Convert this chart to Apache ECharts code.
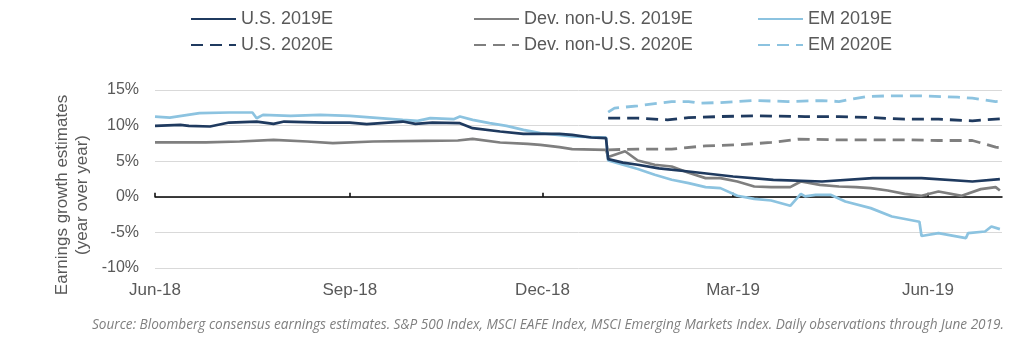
<!DOCTYPE html>
<html>
<head>
<meta charset="utf-8">
<script src="https://cdn.jsdelivr.net/npm/echarts@6/dist/echarts.min.js"></script>
<style>
  html, body { margin: 0; padding: 0; background: #fff; }
  #chart { width: 1024px; height: 346px; }
</style>
</head>
<body>
<div id="chart"></div>
<script>
// ---- Data (% year over year) ----
const tickDates = ['2018-06-01', '2018-09-01', '2018-12-01', '2019-03-01', '2019-06-01'];
const tickLabels = ['Jun-18', 'Sep-18', 'Dec-18', 'Mar-19', 'Jun-19'];
const xStart = '2018-06-01';
const xEnd = '2019-07-06';

const us2019E = [['2018-06-01',9.97],['2018-06-13',10.1],['2018-06-17',9.97],['2018-06-27',9.87],['2018-07-06',10.43],['2018-07-19',10.57],['2018-07-27',10.25],['2018-08-01',10.57],['2018-08-20',10.43],['2018-09-01',10.43],['2018-09-09',10.2],['2018-09-26',10.57],['2018-10-02',10.25],['2018-10-10',10.43],['2018-10-23',10.34],['2018-10-29',9.64],['2018-11-11',9.17],['2018-11-22',8.84],['2018-12-09',8.84],['2018-12-15',8.7],['2018-12-24',8.33],['2018-12-31',8.24],['2019-01-01',5.3],['2019-01-08',4.8],['2019-01-15',4.5],['2019-01-25',4.0],['2019-02-08',3.55],['2019-03-01',2.85],['2019-03-20',2.39],['2019-04-12',2.15],['2019-05-06',2.62],['2019-05-29',2.62],['2019-06-22',2.15],['2019-07-05',2.48]];

const dev2019E = [['2018-06-01',7.63],['2018-06-25',7.63],['2018-07-11',7.77],['2018-07-27',8.0],['2018-08-12',7.77],['2018-08-24',7.54],['2018-09-12',7.77],['2018-10-06',7.86],['2018-10-22',7.91],['2018-10-29',8.14],['2018-11-11',7.63],['2018-11-24',7.44],['2018-11-30',7.3],['2018-12-09',6.97],['2018-12-15',6.7],['2018-12-31',6.6],['2019-01-01',5.6],['2019-01-09',6.4],['2019-01-15',5.1],['2019-01-23',4.5],['2019-01-31',4.26],['2019-02-08',3.37],['2019-02-16',2.62],['2019-02-23',2.62],['2019-03-03',2.15],['2019-03-11',1.45],['2019-03-19',1.36],['2019-03-28',1.36],['2019-04-02',2.15],['2019-04-11',1.68],['2019-04-20',1.45],['2019-04-28',1.36],['2019-05-05',1.22],['2019-05-13',0.89],['2019-05-21',0.42],['2019-05-29',0.14],['2019-06-06',0.75],['2019-06-17',0.14],['2019-06-26',1.08],['2019-07-03',1.36],['2019-07-05',0.89]];

const em2019E = [['2018-06-01',11.27],['2018-06-08',11.13],['2018-06-22',11.75],['2018-07-06',11.84],['2018-07-17',11.84],['2018-07-19',11.04],['2018-07-22',11.51],['2018-08-04',11.37],['2018-08-18',11.51],['2018-09-01',11.37],['2018-09-12',11.13],['2018-09-26',10.81],['2018-10-03',10.67],['2018-10-09',11.04],['2018-10-20',10.9],['2018-10-23',11.27],['2018-10-29',10.81],['2018-11-06',10.34],['2018-11-14',9.97],['2018-11-22',9.4],['2018-11-30',8.94],['2018-12-15',8.47],['2018-12-31',8.3],['2019-01-01',5.1],['2019-01-15',3.9],['2019-01-23',3.1],['2019-01-31',2.4],['2019-02-08',1.92],['2019-02-16',1.36],['2019-02-23',1.22],['2019-03-03',0.15],['2019-03-11',-0.3],['2019-03-19',-0.52],['2019-03-28',-1.26],['2019-04-02',0.42],['2019-04-04',0.05],['2019-04-09',0.28],['2019-04-16',0.28],['2019-04-23',-0.66],['2019-05-05',-1.59],['2019-05-15',-2.77],['2019-05-28',-3.5],['2019-05-29',-5.5],['2019-06-06',-5.1],['2019-06-19',-5.8],['2019-06-20',-5.1],['2019-06-28',-4.87],['2019-07-01',-4.17],['2019-07-05',-4.54]];

const us2020E = [['2019-01-01',11.04],['2019-01-15',11.04],['2019-01-29',10.81],['2019-02-08',11.13],['2019-02-23',11.27],['2019-03-11',11.37],['2019-04-04',11.27],['2019-04-20',11.27],['2019-05-05',11.13],['2019-05-21',10.9],['2019-06-06',10.9],['2019-06-22',10.67],['2019-07-05',10.95]];

const dev2020E = [['2019-01-01',6.6],['2019-01-15',6.7],['2019-01-31',6.7],['2019-02-16',7.16],['2019-03-03',7.3],['2019-03-19',7.63],['2019-04-01',8.1],['2019-04-20',8.0],['2019-05-05',8.0],['2019-05-21',8.0],['2019-06-06',7.91],['2019-06-22',7.91],['2019-07-03',6.97],['2019-07-05',6.9]];

const em2020E = [['2019-01-01',11.9],['2019-01-04',12.45],['2019-01-15',12.78],['2019-01-31',13.38],['2019-02-08',13.38],['2019-02-13',13.15],['2019-02-23',13.24],['2019-03-11',13.52],['2019-03-27',13.38],['2019-04-12',13.52],['2019-04-20',13.38],['2019-05-03',14.08],['2019-05-14',14.18],['2019-05-29',14.18],['2019-06-15',14.0],['2019-06-22',13.85],['2019-07-03',13.38],['2019-07-05',13.4]];

const seriesNames = ['U.S. 2019E', 'Dev. non-U.S. 2019E', 'EM 2019E', 'U.S. 2020E', 'Dev. non-U.S. 2020E', 'EM 2020E'];
const yTickValues = [-10, -5, 0, 5, 10, 15];
const yAxisTitle = 'Earnings growth estimates\n(year over year)';
const sourceNote = 'Source: Bloomberg consensus earnings estimates. S&P 500 Index, MSCI EAFE Index, MSCI Emerging Markets Index. Daily observations through June 2019.';

// ---- Styling ----
const C_US = '#1f3a5f';
const C_DEV = '#7f7f7f';
const C_EM = '#8cc3e0';
const TXT = '#595959';
const FONT = 'Liberation Sans, Arial, sans-serif';

// day offset from the axis start (dates -> numeric day scale for a value axis)
function dayOf(s) {
  const p = s.split('-').map(Number);
  const q = xStart.split('-').map(Number);
  return (Date.UTC(p[0], p[1] - 1, p[2]) - Date.UTC(q[0], q[1] - 1, q[2])) / 86400000;
}
const tickDays = tickDates.map(dayOf);
function toXY(arr) { return arr.map(function (d) { return [dayOf(d[0]), d[1]]; }); }

function mkSeries(name, data, color, dashed) {
  return {
    name: name,
    type: 'line',
    data: toXY(data),
    symbol: 'none',
    smooth: false,
    xAxisIndex: 0,
    lineStyle: { color: color, width: dashed ? 2.8 : 2.7, type: dashed ? [12, 7] : 'solid' },
    itemStyle: { color: color },
    emphasis: { disabled: true },
    z: 3
  };
}

const chart = echarts.init(document.getElementById('chart'), null, { renderer: 'canvas' });

const legendCommon = {
  orient: 'vertical',
  top: 10,
  padding: 0,
  itemWidth: 45,
  itemHeight: 14,
  itemGap: 8,
  selectedMode: false,
  itemStyle: { color: 'transparent', borderWidth: 0, opacity: 0 },
  textStyle: { color: TXT, fontSize: 18, fontFamily: FONT }
};

chart.setOption({
  animation: false,
  backgroundColor: '#ffffff',
  grid: { left: 155, right: 22, top: 90, bottom: 78, containLabel: false },
  legend: [
    Object.assign({ left: 190, data: [seriesNames[0], seriesNames[3]] }, legendCommon),
    Object.assign({ left: 473, data: [seriesNames[1], seriesNames[4]] }, legendCommon),
    Object.assign({ left: 757, data: [seriesNames[2], seriesNames[5]] }, legendCommon)
  ],
  xAxis: [
    {
      type: 'value',
      position: 'bottom',
      min: 0,
      max: dayOf(xEnd),
      axisLine: { show: false, onZero: false },
      axisTick: { show: false },
      splitLine: { show: false },
      axisLabel: {
        customValues: tickDays,
        color: TXT,
        fontSize: 17,
        fontFamily: FONT,
        margin: 14,
        hideOverlap: false,
        showMinLabel: true,
        showMaxLabel: true,
        formatter: function (v) {
          const i = tickDays.indexOf(v);
          return i >= 0 ? tickLabels[i] : '';
        }
      }
    },
    {
      type: 'value',
      position: 'bottom',
      min: 0,
      max: dayOf(xEnd),
      axisLine: { show: true, onZero: true, lineStyle: { color: '#000000', width: 1.5 } },
      axisTick: { show: true, inside: true, length: 4, customValues: tickDays, lineStyle: { color: '#000000', width: 1.5 } },
      axisLabel: { show: false },
      splitLine: { show: false }
    }
  ],
  yAxis: {
    type: 'value',
    min: -10,
    max: 15,
    interval: 5,
    axisLine: { show: false },
    axisTick: { show: false },
    splitLine: { show: true, lineStyle: { color: '#d9d9d9', width: 1 } },
    axisLabel: {
      color: TXT,
      fontSize: 16,
      fontFamily: FONT,
      margin: 16,
      formatter: function (v) { return yTickValues.indexOf(v) >= 0 ? v + '%' : ''; }
    }
  },
  graphic: [
    {
      type: 'text',
      x: 72,
      y: 195,
      rotation: Math.PI / 2,
      style: {
        text: yAxisTitle,
        fill: TXT,
        font: '17px ' + FONT,
        align: 'center',
        verticalAlign: 'middle',
        lineHeight: 20
      }
    },
    {
      type: 'text',
      x: 92,
      y: 325,
      style: {
        text: sourceNote,
        fill: '#7f7f7f',
        font: 'italic 13.6px "Open Sans", sans-serif',
        align: 'left',
        verticalAlign: 'middle'
      }
    }
  ],
  series: [
    mkSeries(seriesNames[1], dev2019E, C_DEV, false),
    mkSeries(seriesNames[2], em2019E, C_EM, false),
    mkSeries(seriesNames[0], us2019E, C_US, false),
    mkSeries(seriesNames[4], dev2020E, C_DEV, true),
    mkSeries(seriesNames[5], em2020E, C_EM, true),
    mkSeries(seriesNames[3], us2020E, C_US, true)
  ]
});
</script>
</body>
</html>
